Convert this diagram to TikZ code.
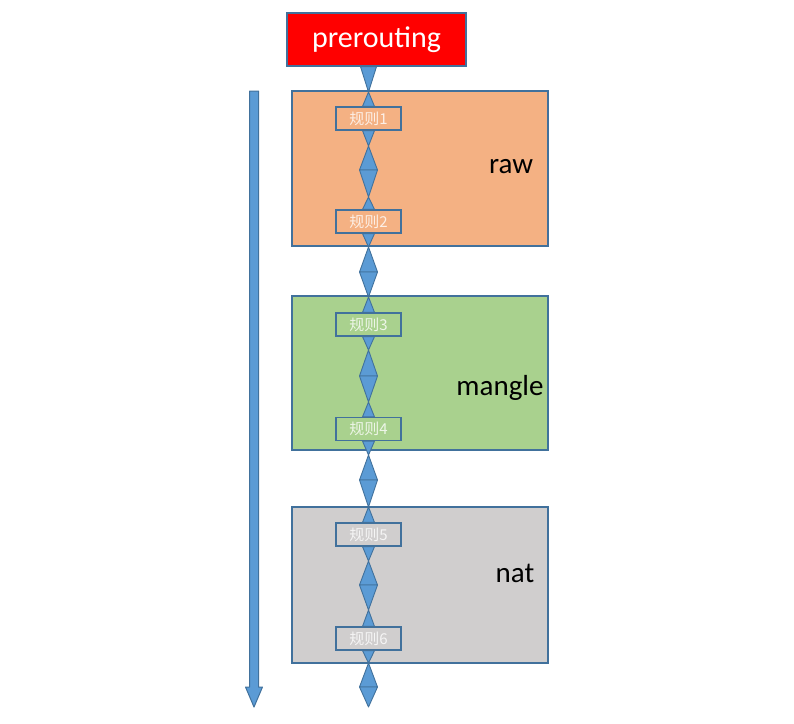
\documentclass[tikz,border=0pt]{standalone}
\usepackage{fontspec}
\setmainfont{Carlito}
\newfontfamily\cjk{Noto Sans CJK SC}
\usetikzlibrary{calc}

\definecolor{edgeblue}{RGB}{65,113,156}
\definecolor{linkblue}{RGB}{91,155,213}
\definecolor{rawfill}{RGB}{244,177,131}
\definecolor{manglefill}{RGB}{169,209,142}
\definecolor{natfill}{RGB}{208,206,206}

\pgfdeclarelayer{back}
\pgfdeclarelayer{mid}
\pgfsetlayers{back,mid,main}

% triangle: base centre, tip, half width
\newcommand{\tri}[3]{\draw[link] ($(#1)+(-#3,0)$) -- ($(#1)+(#3,0)$) -- (#2) -- cycle;}

\begin{document}
\begin{tikzpicture}[
    x=1pt, y=-1pt,
    table/.style={rectangle, draw=edgeblue, line width=1.2pt, minimum width=256pt, inner sep=0pt},
    rule/.style={rectangle, draw=edgeblue, line width=1.2pt, minimum width=65pt, minimum height=23pt, inner sep=0pt, text=white, text opacity=0.8, font=\cjk\fontsize{15}{17}\selectfont},
    link/.style={fill=linkblue, draw=edgeblue, line width=0.9pt, line join=round},
    tname/.style={font=\fontsize{29}{33}\selectfont, text=black}
]
\useasboundingbox (0,0) rectangle (794,723);

% tables
\begin{pgfonlayer}{back}
\node[rectangle, draw=edgeblue, line width=1.2pt, fill=red, minimum width=179pt, minimum height=53pt, inner sep=0pt,
      text=white, font=\fontsize{30}{34}\selectfont] (pre) at (376.5,39.5) {prerouting};
\node[table, fill=rawfill, minimum height=155pt] (raw) at (420,168.5) {};
\node[table, fill=manglefill, minimum height=154pt] (mangle) at (420,373) {};
\node[table, fill=natfill, minimum height=156pt] (nat) at (420,585) {};
\end{pgfonlayer}

\node[tname] (rawlbl) at (511,167) {raw};
\node[tname] (manglelbl) at (500,388) {mangle};
\node[tname] (natlbl) at (515,573) {nat};

% rules
\node[rule, fill=rawfill] (r1) at (368.5,118.5) {规则1};
\node[rule, fill=rawfill] (r2) at (368.5,221.5) {规则2};
\node[rule, fill=manglefill] (r3) at (368.5,324.5) {规则3};
\node[rule, fill=manglefill] (r4) at (368.5,429) {规则4};
\node[rule, fill=natfill] (r5) at (368.5,534.5) {规则5};
\node[rule, fill=natfill] (r6) at (368.5,638.5) {规则6};

\begin{pgfonlayer}{mid}
% prerouting to rule 1
\coordinate (t0) at (368.5,92);
\tri{pre.south -| r1.south}{t0}{8}
\tri{r1.north}{t0}{6}

% rule k to rule k+1
\foreach \k/\n/\a/\m/\b in {1/2/146/170/197, 2/3/247/272/297, 3/4/350/376/402, 4/5/455/480/507, 5/6/561/585/610}{
  \coordinate (a\k) at (368.5,\a);
  \coordinate (m\k) at (368.5,\m);
  \coordinate (b\k) at (368.5,\b);
  \tri{r\k.south}{a\k}{6}
  \tri{m\k}{a\k}{9}
  \tri{m\k}{b\k}{9}
  \tri{r\n.north}{b\k}{6}
}

% after rule 6
\coordinate (a6) at (368.5,663);
\coordinate (m6) at (368.5,687);
\coordinate (b6) at (368.5,707);
\tri{r6.south}{a6}{6}
\tri{m6}{a6}{9}
\tri{m6}{b6}{9}
\end{pgfonlayer}

% order arrow
\draw[link, line width=1pt] (249.5,91) -- (258.5,91) -- (258.5,687) -- (262.5,687) -- (254,707)
   -- (245.5,687) -- (249.5,687) -- cycle;

\end{tikzpicture}
\end{document}
